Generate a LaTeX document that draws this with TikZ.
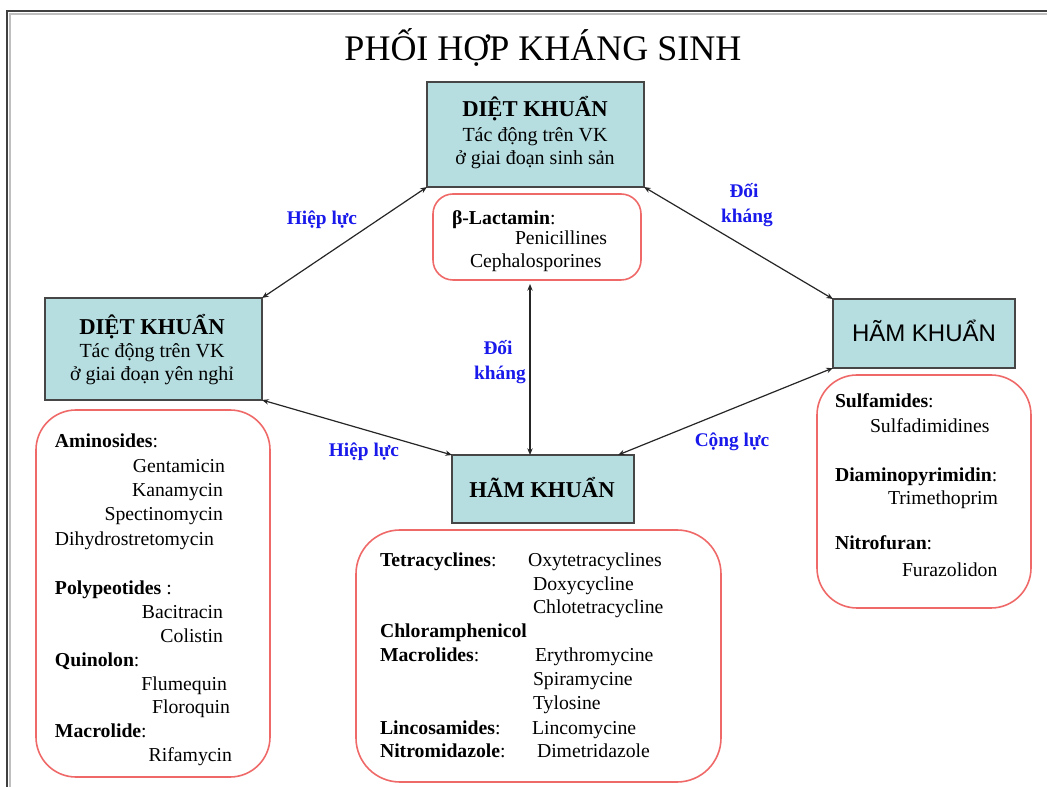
\documentclass[tikz,border=0pt]{standalone}
\usepackage{fontspec}
\setmainfont{Liberation Serif}
\newfontfamily\arialf{Liberation Sans}
\usetikzlibrary{arrows.meta}
\newcommand\myfs[1]{\fontsize{#1}{#1}\selectfont}
\definecolor{boxfill}{RGB}{182,222,225}
\definecolor{boxline}{RGB}{70,70,70}
\definecolor{redline}{RGB}{240,105,105}
\definecolor{lblue}{RGB}{25,25,235}
\begin{document}
\begin{tikzpicture}[x=0.75pt,y=-0.75pt,
  box/.style={draw=boxline, fill=boxfill, line width=1.1pt, inner sep=0pt, outer sep=0pt},
  rbox/.style={draw=redline, line width=1.2pt, inner sep=0pt, outer sep=0pt},
  txt/.style={inner sep=0pt, outer sep=0pt, anchor=base, font=\myfs{15pt}},
  ttl/.style={inner sep=0pt, outer sep=0pt, anchor=base, font=\bfseries\myfs{17pt}},
  lw/.style={inner sep=0pt, outer sep=0pt, anchor=base west, font=\myfs{14.8pt}},
  le/.style={inner sep=0pt, outer sep=0pt, anchor=base east, font=\myfs{14.8pt}},
  lbl/.style={inner sep=0pt, outer sep=0pt, anchor=base, text=lblue, font=\bfseries\myfs{14.5pt}},
  arr/.style={{Stealth[length=5pt,width=4pt]}-{Stealth[length=5pt,width=4pt]}, line width=0.9pt, draw=black!85}]
\useasboundingbox (0,0) rectangle (1047,787);
\fill[white] (0,0) rectangle (1047,787);
% frame
\draw[line width=1.5pt, black!25] (10,787) -- (10,14) -- (1047,14);
\draw[line width=2.2pt, black!75] (7,787) -- (7,11) -- (1047,11);
% title
\node[inner sep=0pt, anchor=base, font=\myfs{27pt}] (title) at (543,61) {PHỐI HỢP KHÁNG SINH};
% main boxes
\node[box, minimum width=162.75pt, minimum height=78.75pt] (top) at (535.5,134.5) {};
\node[box, minimum width=162.75pt, minimum height=76.5pt] (left) at (153.5,349) {};
\node[box, minimum width=136.5pt, minimum height=51.75pt] (right) at (924,333.5) {};
\node[box, minimum width=136.5pt, minimum height=51pt] (bot) at (543,489) {};
% rounded boxes
\node[rbox, rounded corners=15pt, minimum width=156pt, minimum height=64.5pt] (beta) at (537,237) {};
\node[rbox, rounded corners=30pt, minimum width=175.5pt, minimum height=275.25pt] (llist) at (153,593.5) {};
\node[rbox, rounded corners=33pt, minimum width=273.75pt, minimum height=189pt] (clist) at (538.5,656) {};
\node[rbox, rounded corners=30pt, minimum width=160.5pt, minimum height=174.75pt] (rlist) at (924,491.5) {};
% box texts
\node[ttl] (t1) at (535,117) {DIỆT KHUẨN};
\node[txt] (t2) at (535,142) {Tác động trên VK};
\node[txt] (t3) at (535,165) {ở giai đoạn sinh sản};
\node[ttl] (l1) at (152,335) {DIỆT KHUẨN};
\node[txt] (l2) at (152,358) {Tác động trên VK};
\node[txt] (l3) at (152,381) {ở giai đoạn yên nghỉ};
\node[inner sep=0pt, anchor=base, font=\arialf\myfs{18pt}] (r1) at (924,342) {HÃM KHUẨN};
\node[ttl] (b1) at (542,498) {HÃM KHUẨN};
% beta list
\node[lw] (be1) at (452,225) {\textbf{β-Lactamin}:};
\node[lw] (be2) at (515,245) {Penicillines};
\node[lw] (be3) at (470,268) {Cephalosporines};
% left list
\node[lw] (a1) at (55,448) {\textbf{Aminosides}:};
\node[le] (a2) at (225,473) {Gentamicin};
\node[le] (a3) at (223,497) {Kanamycin};
\node[le] (a4) at (223,521) {Spectinomycin};
\node[lw] (a5) at (55,546) {Dihydrostretomycin};
\node[lw] (a6) at (55,595) {\textbf{Polypeotides} :};
\node[le] (a7) at (223,619) {Bacitracin};
\node[le] (a8) at (223,643) {Colistin};
\node[lw] (a9) at (55,667) {\textbf{Quinolon}:};
\node[le] (a10) at (227,691) {Flumequin};
\node[le] (a11) at (230,714) {Floroquin};
\node[lw] (a12) at (55,738) {\textbf{Macrolide}:};
\node[le] (a13) at (232,762) {Rifamycin};
% center list
\node[lw] (c1) at (380,567) {\textbf{Tetracyclines}:};
\node[lw] (c2) at (528,567) {Oxytetracyclines};
\node[lw] (c3) at (533,591) {Doxycycline};
\node[lw] (c4) at (533,614) {Chlotetracycline};
\node[lw] (c5) at (380,638) {\textbf{Chloramphenicol}};
\node[lw] (c6) at (380,662) {\textbf{Macrolides}:};
\node[lw] (c7) at (535,662) {Erythromycine};
\node[lw] (c8) at (533,686) {Spiramycine};
\node[lw] (c9) at (533,710) {Tylosine};
\node[lw] (c10) at (380,735) {\textbf{Lincosamides}:};
\node[lw] (c11) at (532,735) {Lincomycine};
\node[lw] (c12) at (380,758) {\textbf{Nitromidazole}:};
\node[lw] (c13) at (537,758) {Dimetridazole};
% right list
\node[lw] (s1) at (835,408) {\textbf{Sulfamides}:};
\node[lw] (s2) at (870,433) {Sulfadimidines};
\node[lw] (s3) at (835,482) {\textbf{Diaminopyrimidin}:};
\node[lw] (s4) at (888,505) {Trimethoprim};
\node[lw] (s5) at (835,550) {\textbf{Nitrofuran}:};
\node[lw] (s6) at (902,577) {Furazolidon};
% connectors
\coordinate (vx) at (530,0);
\coordinate (cr) at (618,455);
\draw[arr] (top.south west) -- (left.north east);
\draw[arr] (top.south east) -- (right.north west);
\draw[arr] (left.south east) -- (bot.north west);
\draw[arr] (right.south west) -- (cr);
\draw[arr, shorten <=3pt] (beta.south -| vx) -- (bot.north -| vx);
% labels
\node[lbl] (h1) at (322,225) {Hiệp lực};
\node[lbl] (h2) at (364,457) {Hiệp lực};
\node[lbl] (d1) at (744,198) {Đối};
\node[lbl] (d2) at (747,223) {kháng};
\node[lbl] (g1) at (732,447) {Cộng lực};
\node[lbl] (d3) at (498,355) {Đối};
\node[lbl] (d4) at (500,380) {kháng};
\end{tikzpicture}
\end{document}
